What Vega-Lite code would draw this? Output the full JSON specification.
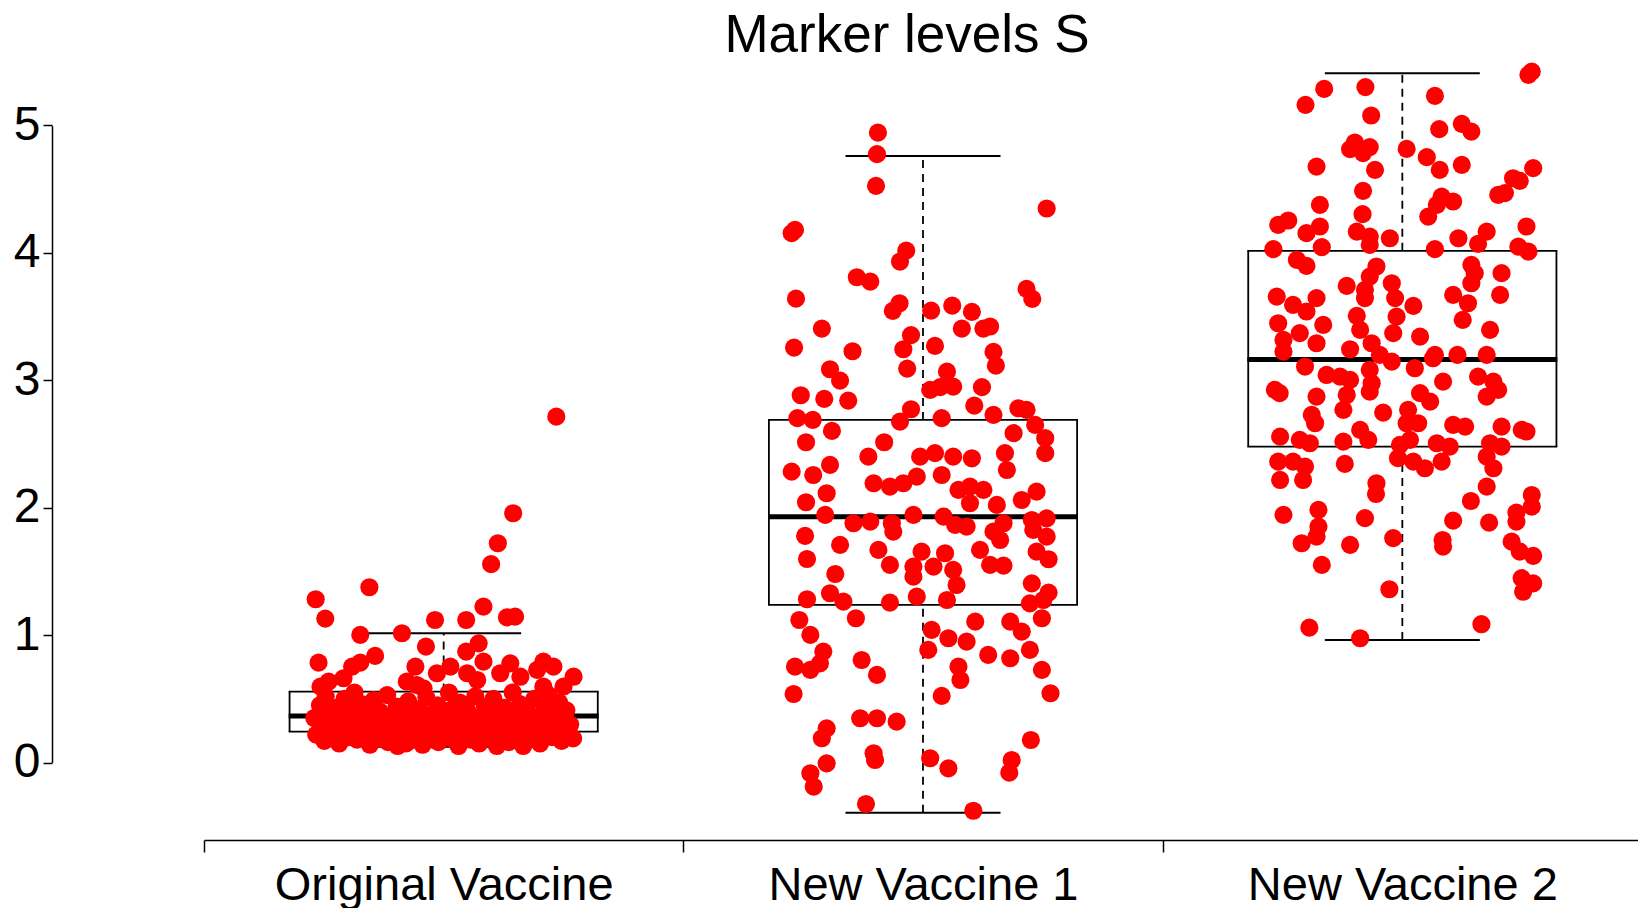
{
"$schema": "https://vega.github.io/schema/vega-lite/v6.json",
"autosize": "none",
"padding": {"left": 204, "top": 49, "right": 0, "bottom": 68},
"width": 1438,
"height": 791,
"background": "white",
"title": {"text": "Marker levels S", "fontSize": 53, "fontWeight": "normal", "font": "Liberation Sans", "color": "black", "anchor": "middle", "dx": -16, "offset": -14},
"config": {
  "view": {"stroke": null},
  "font": "Liberation Sans",
  "axisX": {"tickBand": "extent", "domainColor": "black", "domainWidth": 1.5, "tickColor": "black", "tickWidth": 1.5, "tickSize": 12, "labelFontSize": 47, "labelColor": "black", "labelPadding": 10, "labelAngle": 0, "labelLimit": 0, "grid": false, "labelFont": "Liberation Sans"},
  "axisY": {"offset": 152, "domainColor": "black", "domainWidth": 1.5, "domainDash": [0, 77.4, 637.2, 3000], "tickColor": "black", "tickWidth": 1.5, "tickSize": 9, "labelFontSize": 48, "labelColor": "black", "labelPadding": 3, "labelLimit": 0, "grid": false, "labelFont": "Liberation Sans"}
},
"datasets": {
  "boxes": [
    {"group": "Original Vaccine", "lower": 0.125, "q1": 0.243, "median": 0.366, "q3": 0.557, "upper": 1.015},
    {"group": "New Vaccine 1", "lower": -0.393, "q1": 1.237, "median": 1.930, "q3": 2.689, "upper": 4.761},
    {"group": "New Vaccine 2", "lower": 0.962, "q1": 2.480, "median": 3.163, "q3": 4.016, "upper": 5.410}
  ],
  "points": [
{"group":"Original Vaccine","jitter":0.235,"value":2.715},
{"group":"Original Vaccine","jitter":0.145,"value":1.957},
{"group":"Original Vaccine","jitter":0.113,"value":1.721},
{"group":"Original Vaccine","jitter":0.099,"value":1.557},
{"group":"Original Vaccine","jitter":-0.155,"value":1.376},
{"group":"Original Vaccine","jitter":-0.267,"value":1.282},
{"group":"Original Vaccine","jitter":-0.247,"value":1.130},
{"group":"Original Vaccine","jitter":0.083,"value":1.224},
{"group":"Original Vaccine","jitter":-0.018,"value":1.119},
{"group":"Original Vaccine","jitter":0.047,"value":1.119},
{"group":"Original Vaccine","jitter":0.132,"value":1.140},
{"group":"Original Vaccine","jitter":0.149,"value":1.145},
{"group":"Original Vaccine","jitter":-0.087,"value":1.015},
{"group":"Original Vaccine","jitter":-0.174,"value":1.002},
{"group":"Original Vaccine","jitter":-0.037,"value":0.910},
{"group":"Original Vaccine","jitter":0.047,"value":0.871},
{"group":"Original Vaccine","jitter":0.073,"value":0.936},
{"group":"Original Vaccine","jitter":-0.143,"value":0.837},
{"group":"Original Vaccine","jitter":-0.261,"value":0.784},
{"group":"Original Vaccine","jitter":-0.191,"value":0.753},
{"group":"Original Vaccine","jitter":-0.174,"value":0.784},
{"group":"Original Vaccine","jitter":-0.059,"value":0.753},
{"group":"Original Vaccine","jitter":0.014,"value":0.753},
{"group":"Original Vaccine","jitter":0.083,"value":0.792},
{"group":"Original Vaccine","jitter":0.139,"value":0.779},
{"group":"Original Vaccine","jitter":0.208,"value":0.792},
{"group":"Original Vaccine","jitter":0.229,"value":0.753},
{"group":"Original Vaccine","jitter":0.271,"value":0.674},
{"group":"Original Vaccine","jitter":0.195,"value":0.727},
{"group":"Original Vaccine","jitter":-0.014,"value":0.701},
{"group":"Original Vaccine","jitter":0.049,"value":0.701},
{"group":"Original Vaccine","jitter":0.070,"value":0.648},
{"group":"Original Vaccine","jitter":0.118,"value":0.701},
{"group":"Original Vaccine","jitter":0.160,"value":0.674},
{"group":"Original Vaccine","jitter":-0.257,"value":0.596},
{"group":"Original Vaccine","jitter":-0.240,"value":0.635},
{"group":"Original Vaccine","jitter":-0.209,"value":0.662},
{"group":"Original Vaccine","jitter":-0.077,"value":0.635},
{"group":"Original Vaccine","jitter":-0.056,"value":0.609},
{"group":"Original Vaccine","jitter":-0.042,"value":0.583},
{"group":"Original Vaccine","jitter":0.208,"value":0.596},
{"group":"Original Vaccine","jitter":0.250,"value":0.596},
{"group":"Original Vaccine","jitter":-0.270,"value":0.35},
{"group":"Original Vaccine","jitter":-0.266,"value":0.22},
{"group":"Original Vaccine","jitter":-0.258,"value":0.45},
{"group":"Original Vaccine","jitter":-0.253,"value":0.28},
{"group":"Original Vaccine","jitter":-0.249,"value":0.17},
{"group":"Original Vaccine","jitter":-0.246,"value":0.52},
{"group":"Original Vaccine","jitter":-0.238,"value":0.38},
{"group":"Original Vaccine","jitter":-0.233,"value":0.31},
{"group":"Original Vaccine","jitter":-0.231,"value":0.24},
{"group":"Original Vaccine","jitter":-0.224,"value":0.43},
{"group":"Original Vaccine","jitter":-0.218,"value":0.15},
{"group":"Original Vaccine","jitter":-0.213,"value":0.36},
{"group":"Original Vaccine","jitter":-0.207,"value":0.50},
{"group":"Original Vaccine","jitter":-0.204,"value":0.27},
{"group":"Original Vaccine","jitter":-0.198,"value":0.20},
{"group":"Original Vaccine","jitter":-0.193,"value":0.41},
{"group":"Original Vaccine","jitter":-0.188,"value":0.33},
{"group":"Original Vaccine","jitter":-0.186,"value":0.55},
{"group":"Original Vaccine","jitter":-0.181,"value":0.18},
{"group":"Original Vaccine","jitter":-0.174,"value":0.29},
{"group":"Original Vaccine","jitter":-0.171,"value":0.46},
{"group":"Original Vaccine","jitter":-0.163,"value":0.38},
{"group":"Original Vaccine","jitter":-0.161,"value":0.23},
{"group":"Original Vaccine","jitter":-0.154,"value":0.14},
{"group":"Original Vaccine","jitter":-0.148,"value":0.34},
{"group":"Original Vaccine","jitter":-0.146,"value":0.49},
{"group":"Original Vaccine","jitter":-0.139,"value":0.27},
{"group":"Original Vaccine","jitter":-0.133,"value":0.40},
{"group":"Original Vaccine","jitter":-0.131,"value":0.19},
{"group":"Original Vaccine","jitter":-0.124,"value":0.31},
{"group":"Original Vaccine","jitter":-0.118,"value":0.53},
{"group":"Original Vaccine","jitter":-0.116,"value":0.16},
{"group":"Original Vaccine","jitter":-0.109,"value":0.36},
{"group":"Original Vaccine","jitter":-0.106,"value":0.25},
{"group":"Original Vaccine","jitter":-0.098,"value":0.44},
{"group":"Original Vaccine","jitter":-0.096,"value":0.13},
{"group":"Original Vaccine","jitter":-0.089,"value":0.30},
{"group":"Original Vaccine","jitter":-0.084,"value":0.21},
{"group":"Original Vaccine","jitter":-0.081,"value":0.39},
{"group":"Original Vaccine","jitter":-0.074,"value":0.48},
{"group":"Original Vaccine","jitter":-0.071,"value":0.17},
{"group":"Original Vaccine","jitter":-0.063,"value":0.28},
{"group":"Original Vaccine","jitter":-0.061,"value":0.35},
{"group":"Original Vaccine","jitter":-0.053,"value":0.23},
{"group":"Original Vaccine","jitter":-0.051,"value":0.42},
{"group":"Original Vaccine","jitter":-0.044,"value":0.14},
{"group":"Original Vaccine","jitter":-0.039,"value":0.32},
{"group":"Original Vaccine","jitter":-0.036,"value":0.51},
{"group":"Original Vaccine","jitter":-0.028,"value":0.20},
{"group":"Original Vaccine","jitter":-0.026,"value":0.37},
{"group":"Original Vaccine","jitter":-0.019,"value":0.26},
{"group":"Original Vaccine","jitter":-0.013,"value":0.45},
{"group":"Original Vaccine","jitter":-0.011,"value":0.16},
{"group":"Original Vaccine","jitter":-0.004,"value":0.33},
{"group":"Original Vaccine","jitter":0.002,"value":0.24},
{"group":"Original Vaccine","jitter":0.006,"value":0.40},
{"group":"Original Vaccine","jitter":0.011,"value":0.55},
{"group":"Original Vaccine","jitter":0.016,"value":0.19},
{"group":"Original Vaccine","jitter":0.021,"value":0.29},
{"group":"Original Vaccine","jitter":0.024,"value":0.36},
{"group":"Original Vaccine","jitter":0.031,"value":0.13},
{"group":"Original Vaccine","jitter":0.034,"value":0.47},
{"group":"Original Vaccine","jitter":0.041,"value":0.22},
{"group":"Original Vaccine","jitter":0.046,"value":0.31},
{"group":"Original Vaccine","jitter":0.049,"value":0.41},
{"group":"Original Vaccine","jitter":0.056,"value":0.18},
{"group":"Original Vaccine","jitter":0.059,"value":0.27},
{"group":"Original Vaccine","jitter":0.066,"value":0.52},
{"group":"Original Vaccine","jitter":0.071,"value":0.35},
{"group":"Original Vaccine","jitter":0.074,"value":0.15},
{"group":"Original Vaccine","jitter":0.081,"value":0.24},
{"group":"Original Vaccine","jitter":0.086,"value":0.44},
{"group":"Original Vaccine","jitter":0.089,"value":0.30},
{"group":"Original Vaccine","jitter":0.096,"value":0.20},
{"group":"Original Vaccine","jitter":0.101,"value":0.38},
{"group":"Original Vaccine","jitter":0.104,"value":0.50},
{"group":"Original Vaccine","jitter":0.111,"value":0.13},
{"group":"Original Vaccine","jitter":0.114,"value":0.27},
{"group":"Original Vaccine","jitter":0.121,"value":0.34},
{"group":"Original Vaccine","jitter":0.126,"value":0.43},
{"group":"Original Vaccine","jitter":0.129,"value":0.21},
{"group":"Original Vaccine","jitter":0.136,"value":0.16},
{"group":"Original Vaccine","jitter":0.141,"value":0.37},
{"group":"Original Vaccine","jitter":0.144,"value":0.55},
{"group":"Original Vaccine","jitter":0.151,"value":0.29},
{"group":"Original Vaccine","jitter":0.156,"value":0.24},
{"group":"Original Vaccine","jitter":0.159,"value":0.46},
{"group":"Original Vaccine","jitter":0.166,"value":0.13},
{"group":"Original Vaccine","jitter":0.171,"value":0.33},
{"group":"Original Vaccine","jitter":0.174,"value":0.40},
{"group":"Original Vaccine","jitter":0.181,"value":0.19},
{"group":"Original Vaccine","jitter":0.186,"value":0.27},
{"group":"Original Vaccine","jitter":0.189,"value":0.50},
{"group":"Original Vaccine","jitter":0.196,"value":0.36},
{"group":"Original Vaccine","jitter":0.201,"value":0.15},
{"group":"Original Vaccine","jitter":0.204,"value":0.23},
{"group":"Original Vaccine","jitter":0.211,"value":0.43},
{"group":"Original Vaccine","jitter":0.216,"value":0.31},
{"group":"Original Vaccine","jitter":0.219,"value":0.53},
{"group":"Original Vaccine","jitter":0.226,"value":0.20},
{"group":"Original Vaccine","jitter":0.231,"value":0.38},
{"group":"Original Vaccine","jitter":0.234,"value":0.26},
{"group":"Original Vaccine","jitter":0.241,"value":0.47},
{"group":"Original Vaccine","jitter":0.246,"value":0.17},
{"group":"Original Vaccine","jitter":0.249,"value":0.34},
{"group":"Original Vaccine","jitter":0.256,"value":0.41},
{"group":"Original Vaccine","jitter":0.261,"value":0.24},
{"group":"Original Vaccine","jitter":0.264,"value":0.30},
{"group":"Original Vaccine","jitter":0.270,"value":0.19},
{"group":"Original Vaccine","jitter":-0.251,"value":0.33},
{"group":"Original Vaccine","jitter":-0.202,"value":0.37},
{"group":"Original Vaccine","jitter":-0.151,"value":0.20},
{"group":"Original Vaccine","jitter":-0.102,"value":0.32},
{"group":"Original Vaccine","jitter":-0.049,"value":0.28},
{"group":"Original Vaccine","jitter":0.003,"value":0.35},
{"group":"Original Vaccine","jitter":0.052,"value":0.25},
{"group":"Original Vaccine","jitter":0.098,"value":0.29},
{"group":"Original Vaccine","jitter":0.152,"value":0.35},
{"group":"Original Vaccine","jitter":0.199,"value":0.30},
{"group":"Original Vaccine","jitter":0.248,"value":0.26},
{"group":"Original Vaccine","jitter":-0.222,"value":0.26},
{"group":"Original Vaccine","jitter":-0.121,"value":0.22},
{"group":"Original Vaccine","jitter":-0.022,"value":0.18},
{"group":"Original Vaccine","jitter":0.078,"value":0.34},
{"group":"Original Vaccine","jitter":0.178,"value":0.25},
{"group":"Original Vaccine","jitter":0.122,"value":0.18},
{"group":"Original Vaccine","jitter":-0.079,"value":0.15},
{"group":"Original Vaccine","jitter":0.018,"value":0.42},
{"group":"Original Vaccine","jitter":-0.178,"value":0.42},
{"group":"New Vaccine 1","jitter":-0.094,"value":4.944},
{"group":"New Vaccine 1","jitter":-0.096,"value":4.775},
{"group":"New Vaccine 1","jitter":-0.098,"value":4.526},
{"group":"New Vaccine 1","jitter":0.258,"value":4.348},
{"group":"New Vaccine 1","jitter":-0.267,"value":4.181},
{"group":"New Vaccine 1","jitter":-0.274,"value":4.155},
{"group":"New Vaccine 1","jitter":-0.035,"value":4.018},
{"group":"New Vaccine 1","jitter":-0.048,"value":3.932},
{"group":"New Vaccine 1","jitter":-0.138,"value":3.809},
{"group":"New Vaccine 1","jitter":-0.110,"value":3.775},
{"group":"New Vaccine 1","jitter":-0.265,"value":3.641},
{"group":"New Vaccine 1","jitter":0.216,"value":3.717},
{"group":"New Vaccine 1","jitter":0.228,"value":3.639},
{"group":"New Vaccine 1","jitter":-0.049,"value":3.605},
{"group":"New Vaccine 1","jitter":-0.063,"value":3.545},
{"group":"New Vaccine 1","jitter":0.017,"value":3.547},
{"group":"New Vaccine 1","jitter":0.061,"value":3.586},
{"group":"New Vaccine 1","jitter":0.102,"value":3.537},
{"group":"New Vaccine 1","jitter":0.081,"value":3.406},
{"group":"New Vaccine 1","jitter":0.126,"value":3.406},
{"group":"New Vaccine 1","jitter":0.140,"value":3.422},
{"group":"New Vaccine 1","jitter":-0.211,"value":3.406},
{"group":"New Vaccine 1","jitter":-0.025,"value":3.354},
{"group":"New Vaccine 1","jitter":-0.269,"value":3.257},
{"group":"New Vaccine 1","jitter":-0.147,"value":3.228},
{"group":"New Vaccine 1","jitter":-0.041,"value":3.244},
{"group":"New Vaccine 1","jitter":0.025,"value":3.270},
{"group":"New Vaccine 1","jitter":0.147,"value":3.223},
{"group":"New Vaccine 1","jitter":0.152,"value":3.115},
{"group":"New Vaccine 1","jitter":-0.194,"value":3.087},
{"group":"New Vaccine 1","jitter":-0.173,"value":2.998},
{"group":"New Vaccine 1","jitter":-0.033,"value":3.092},
{"group":"New Vaccine 1","jitter":0.050,"value":3.068},
{"group":"New Vaccine 1","jitter":0.063,"value":2.951},
{"group":"New Vaccine 1","jitter":0.015,"value":2.925},
{"group":"New Vaccine 1","jitter":0.036,"value":2.946},
{"group":"New Vaccine 1","jitter":0.123,"value":2.946},
{"group":"New Vaccine 1","jitter":-0.255,"value":2.883},
{"group":"New Vaccine 1","jitter":-0.206,"value":2.854},
{"group":"New Vaccine 1","jitter":-0.156,"value":2.841},
{"group":"New Vaccine 1","jitter":0.107,"value":2.801},
{"group":"New Vaccine 1","jitter":-0.262,"value":2.703},
{"group":"New Vaccine 1","jitter":-0.230,"value":2.689},
{"group":"New Vaccine 1","jitter":-0.025,"value":2.773},
{"group":"New Vaccine 1","jitter":-0.048,"value":2.676},
{"group":"New Vaccine 1","jitter":0.039,"value":2.703},
{"group":"New Vaccine 1","jitter":0.147,"value":2.729},
{"group":"New Vaccine 1","jitter":0.199,"value":2.781},
{"group":"New Vaccine 1","jitter":0.216,"value":2.768},
{"group":"New Vaccine 1","jitter":-0.190,"value":2.603},
{"group":"New Vaccine 1","jitter":-0.244,"value":2.514},
{"group":"New Vaccine 1","jitter":-0.081,"value":2.514},
{"group":"New Vaccine 1","jitter":0.234,"value":2.650},
{"group":"New Vaccine 1","jitter":0.255,"value":2.546},
{"group":"New Vaccine 1","jitter":0.189,"value":2.585},
{"group":"New Vaccine 1","jitter":-0.114,"value":2.401},
{"group":"New Vaccine 1","jitter":0.171,"value":2.428},
{"group":"New Vaccine 1","jitter":0.255,"value":2.428},
{"group":"New Vaccine 1","jitter":-0.006,"value":2.401},
{"group":"New Vaccine 1","jitter":0.025,"value":2.428},
{"group":"New Vaccine 1","jitter":0.063,"value":2.401},
{"group":"New Vaccine 1","jitter":0.102,"value":2.388},
{"group":"New Vaccine 1","jitter":-0.274,"value":2.283},
{"group":"New Vaccine 1","jitter":-0.229,"value":2.257},
{"group":"New Vaccine 1","jitter":-0.194,"value":2.336},
{"group":"New Vaccine 1","jitter":0.175,"value":2.296},
{"group":"New Vaccine 1","jitter":0.039,"value":2.257},
{"group":"New Vaccine 1","jitter":-0.103,"value":2.192},
{"group":"New Vaccine 1","jitter":-0.069,"value":2.166},
{"group":"New Vaccine 1","jitter":-0.041,"value":2.192},
{"group":"New Vaccine 1","jitter":-0.013,"value":2.244},
{"group":"New Vaccine 1","jitter":0.074,"value":2.140},
{"group":"New Vaccine 1","jitter":0.098,"value":2.166},
{"group":"New Vaccine 1","jitter":0.126,"value":2.140},
{"group":"New Vaccine 1","jitter":0.098,"value":2.035},
{"group":"New Vaccine 1","jitter":-0.201,"value":2.114},
{"group":"New Vaccine 1","jitter":-0.244,"value":2.043},
{"group":"New Vaccine 1","jitter":0.237,"value":2.126},
{"group":"New Vaccine 1","jitter":0.206,"value":2.061},
{"group":"New Vaccine 1","jitter":0.154,"value":2.022},
{"group":"New Vaccine 1","jitter":-0.204,"value":1.944},
{"group":"New Vaccine 1","jitter":-0.145,"value":1.878},
{"group":"New Vaccine 1","jitter":-0.110,"value":1.891},
{"group":"New Vaccine 1","jitter":-0.062,"value":1.812},
{"group":"New Vaccine 1","jitter":-0.065,"value":1.878},
{"group":"New Vaccine 1","jitter":-0.020,"value":1.944},
{"group":"New Vaccine 1","jitter":0.043,"value":1.930},
{"group":"New Vaccine 1","jitter":0.067,"value":1.865},
{"group":"New Vaccine 1","jitter":0.091,"value":1.852},
{"group":"New Vaccine 1","jitter":0.168,"value":1.878},
{"group":"New Vaccine 1","jitter":0.147,"value":1.812},
{"group":"New Vaccine 1","jitter":0.161,"value":1.747},
{"group":"New Vaccine 1","jitter":0.227,"value":1.904},
{"group":"New Vaccine 1","jitter":0.258,"value":1.917},
{"group":"New Vaccine 1","jitter":0.258,"value":1.773},
{"group":"New Vaccine 1","jitter":0.230,"value":1.826},
{"group":"New Vaccine 1","jitter":-0.246,"value":1.779},
{"group":"New Vaccine 1","jitter":-0.173,"value":1.708},
{"group":"New Vaccine 1","jitter":-0.093,"value":1.669},
{"group":"New Vaccine 1","jitter":-0.003,"value":1.655},
{"group":"New Vaccine 1","jitter":0.046,"value":1.643},
{"group":"New Vaccine 1","jitter":0.119,"value":1.669},
{"group":"New Vaccine 1","jitter":-0.242,"value":1.598},
{"group":"New Vaccine 1","jitter":-0.069,"value":1.551},
{"group":"New Vaccine 1","jitter":-0.020,"value":1.538},
{"group":"New Vaccine 1","jitter":0.022,"value":1.538},
{"group":"New Vaccine 1","jitter":0.063,"value":1.512},
{"group":"New Vaccine 1","jitter":0.140,"value":1.551},
{"group":"New Vaccine 1","jitter":0.168,"value":1.546},
{"group":"New Vaccine 1","jitter":0.237,"value":1.655},
{"group":"New Vaccine 1","jitter":0.262,"value":1.596},
{"group":"New Vaccine 1","jitter":-0.183,"value":1.480},
{"group":"New Vaccine 1","jitter":-0.020,"value":1.459},
{"group":"New Vaccine 1","jitter":0.070,"value":1.394},
{"group":"New Vaccine 1","jitter":0.227,"value":1.407},
{"group":"New Vaccine 1","jitter":0.262,"value":1.334},
{"group":"New Vaccine 1","jitter":-0.242,"value":1.282},
{"group":"New Vaccine 1","jitter":-0.194,"value":1.329},
{"group":"New Vaccine 1","jitter":-0.166,"value":1.263},
{"group":"New Vaccine 1","jitter":-0.069,"value":1.255},
{"group":"New Vaccine 1","jitter":-0.013,"value":1.302},
{"group":"New Vaccine 1","jitter":0.050,"value":1.276},
{"group":"New Vaccine 1","jitter":0.223,"value":1.250},
{"group":"New Vaccine 1","jitter":0.251,"value":1.276},
{"group":"New Vaccine 1","jitter":-0.258,"value":1.119},
{"group":"New Vaccine 1","jitter":-0.140,"value":1.133},
{"group":"New Vaccine 1","jitter":0.248,"value":1.133},
{"group":"New Vaccine 1","jitter":-0.235,"value":1.002},
{"group":"New Vaccine 1","jitter":0.018,"value":1.041},
{"group":"New Vaccine 1","jitter":0.053,"value":0.976},
{"group":"New Vaccine 1","jitter":0.091,"value":0.949},
{"group":"New Vaccine 1","jitter":0.109,"value":1.106},
{"group":"New Vaccine 1","jitter":0.182,"value":1.106},
{"group":"New Vaccine 1","jitter":0.206,"value":1.028},
{"group":"New Vaccine 1","jitter":0.011,"value":0.884},
{"group":"New Vaccine 1","jitter":-0.208,"value":0.871},
{"group":"New Vaccine 1","jitter":-0.267,"value":0.753},
{"group":"New Vaccine 1","jitter":-0.235,"value":0.727},
{"group":"New Vaccine 1","jitter":-0.215,"value":0.779},
{"group":"New Vaccine 1","jitter":-0.128,"value":0.805},
{"group":"New Vaccine 1","jitter":-0.096,"value":0.688},
{"group":"New Vaccine 1","jitter":0.136,"value":0.845},
{"group":"New Vaccine 1","jitter":0.182,"value":0.819},
{"group":"New Vaccine 1","jitter":0.223,"value":0.884},
{"group":"New Vaccine 1","jitter":0.074,"value":0.753},
{"group":"New Vaccine 1","jitter":0.078,"value":0.648},
{"group":"New Vaccine 1","jitter":0.248,"value":0.727},
{"group":"New Vaccine 1","jitter":-0.270,"value":0.538},
{"group":"New Vaccine 1","jitter":0.039,"value":0.523},
{"group":"New Vaccine 1","jitter":0.266,"value":0.544},
{"group":"New Vaccine 1","jitter":-0.131,"value":0.348},
{"group":"New Vaccine 1","jitter":-0.096,"value":0.348},
{"group":"New Vaccine 1","jitter":-0.055,"value":0.321},
{"group":"New Vaccine 1","jitter":-0.201,"value":0.269},
{"group":"New Vaccine 1","jitter":-0.211,"value":0.191},
{"group":"New Vaccine 1","jitter":0.225,"value":0.177},
{"group":"New Vaccine 1","jitter":-0.103,"value":0.073},
{"group":"New Vaccine 1","jitter":-0.100,"value":0.020},
{"group":"New Vaccine 1","jitter":0.015,"value":0.034},
{"group":"New Vaccine 1","jitter":0.053,"value":-0.045},
{"group":"New Vaccine 1","jitter":0.185,"value":0.020},
{"group":"New Vaccine 1","jitter":0.180,"value":-0.079},
{"group":"New Vaccine 1","jitter":-0.201,"value":-0.006},
{"group":"New Vaccine 1","jitter":-0.235,"value":-0.084},
{"group":"New Vaccine 1","jitter":-0.228,"value":-0.189},
{"group":"New Vaccine 1","jitter":-0.119,"value":-0.325},
{"group":"New Vaccine 1","jitter":0.105,"value":-0.378},
{"group":"New Vaccine 2","jitter":0.263,"value":5.397},
{"group":"New Vaccine 2","jitter":0.270,"value":5.423},
{"group":"New Vaccine 2","jitter":-0.163,"value":5.287},
{"group":"New Vaccine 2","jitter":-0.202,"value":5.162},
{"group":"New Vaccine 2","jitter":-0.077,"value":5.301},
{"group":"New Vaccine 2","jitter":0.068,"value":5.232},
{"group":"New Vaccine 2","jitter":-0.065,"value":5.078},
{"group":"New Vaccine 2","jitter":0.077,"value":4.971},
{"group":"New Vaccine 2","jitter":0.124,"value":5.013},
{"group":"New Vaccine 2","jitter":0.144,"value":4.952},
{"group":"New Vaccine 2","jitter":-0.099,"value":4.866},
{"group":"New Vaccine 2","jitter":-0.109,"value":4.814},
{"group":"New Vaccine 2","jitter":-0.068,"value":4.830},
{"group":"New Vaccine 2","jitter":-0.082,"value":4.783},
{"group":"New Vaccine 2","jitter":0.009,"value":4.816},
{"group":"New Vaccine 2","jitter":0.051,"value":4.751},
{"group":"New Vaccine 2","jitter":0.078,"value":4.651},
{"group":"New Vaccine 2","jitter":0.124,"value":4.691},
{"group":"New Vaccine 2","jitter":-0.179,"value":4.677},
{"group":"New Vaccine 2","jitter":-0.057,"value":4.651},
{"group":"New Vaccine 2","jitter":0.273,"value":4.665},
{"group":"New Vaccine 2","jitter":0.231,"value":4.586},
{"group":"New Vaccine 2","jitter":0.245,"value":4.565},
{"group":"New Vaccine 2","jitter":-0.082,"value":4.487},
{"group":"New Vaccine 2","jitter":0.200,"value":4.455},
{"group":"New Vaccine 2","jitter":0.214,"value":4.469},
{"group":"New Vaccine 2","jitter":0.082,"value":4.442},
{"group":"New Vaccine 2","jitter":0.106,"value":4.403},
{"group":"New Vaccine 2","jitter":0.072,"value":4.377},
{"group":"New Vaccine 2","jitter":0.054,"value":4.285},
{"group":"New Vaccine 2","jitter":-0.172,"value":4.377},
{"group":"New Vaccine 2","jitter":-0.083,"value":4.304},
{"group":"New Vaccine 2","jitter":-0.259,"value":4.220},
{"group":"New Vaccine 2","jitter":-0.238,"value":4.254},
{"group":"New Vaccine 2","jitter":-0.172,"value":4.207},
{"group":"New Vaccine 2","jitter":-0.200,"value":4.155},
{"group":"New Vaccine 2","jitter":-0.095,"value":4.167},
{"group":"New Vaccine 2","jitter":-0.068,"value":4.128},
{"group":"New Vaccine 2","jitter":-0.026,"value":4.115},
{"group":"New Vaccine 2","jitter":0.259,"value":4.207},
{"group":"New Vaccine 2","jitter":0.176,"value":4.167},
{"group":"New Vaccine 2","jitter":0.117,"value":4.115},
{"group":"New Vaccine 2","jitter":0.158,"value":4.071},
{"group":"New Vaccine 2","jitter":-0.269,"value":4.029},
{"group":"New Vaccine 2","jitter":-0.168,"value":4.045},
{"group":"New Vaccine 2","jitter":-0.068,"value":4.063},
{"group":"New Vaccine 2","jitter":0.068,"value":4.029},
{"group":"New Vaccine 2","jitter":0.242,"value":4.049},
{"group":"New Vaccine 2","jitter":0.263,"value":4.010},
{"group":"New Vaccine 2","jitter":-0.220,"value":3.945},
{"group":"New Vaccine 2","jitter":-0.200,"value":3.898},
{"group":"New Vaccine 2","jitter":-0.054,"value":3.893},
{"group":"New Vaccine 2","jitter":-0.068,"value":3.814},
{"group":"New Vaccine 2","jitter":0.144,"value":3.906},
{"group":"New Vaccine 2","jitter":0.151,"value":3.841},
{"group":"New Vaccine 2","jitter":0.207,"value":3.841},
{"group":"New Vaccine 2","jitter":-0.116,"value":3.741},
{"group":"New Vaccine 2","jitter":-0.078,"value":3.710},
{"group":"New Vaccine 2","jitter":-0.022,"value":3.762},
{"group":"New Vaccine 2","jitter":0.144,"value":3.762},
{"group":"New Vaccine 2","jitter":-0.262,"value":3.657},
{"group":"New Vaccine 2","jitter":-0.228,"value":3.592},
{"group":"New Vaccine 2","jitter":-0.179,"value":3.645},
{"group":"New Vaccine 2","jitter":-0.078,"value":3.645},
{"group":"New Vaccine 2","jitter":-0.015,"value":3.645},
{"group":"New Vaccine 2","jitter":0.023,"value":3.584},
{"group":"New Vaccine 2","jitter":0.106,"value":3.670},
{"group":"New Vaccine 2","jitter":0.137,"value":3.605},
{"group":"New Vaccine 2","jitter":0.204,"value":3.670},
{"group":"New Vaccine 2","jitter":-0.200,"value":3.540},
{"group":"New Vaccine 2","jitter":-0.095,"value":3.506},
{"group":"New Vaccine 2","jitter":-0.012,"value":3.500},
{"group":"New Vaccine 2","jitter":0.126,"value":3.474},
{"group":"New Vaccine 2","jitter":-0.259,"value":3.448},
{"group":"New Vaccine 2","jitter":-0.165,"value":3.435},
{"group":"New Vaccine 2","jitter":-0.088,"value":3.396},
{"group":"New Vaccine 2","jitter":0.183,"value":3.396},
{"group":"New Vaccine 2","jitter":-0.248,"value":3.317},
{"group":"New Vaccine 2","jitter":-0.214,"value":3.370},
{"group":"New Vaccine 2","jitter":-0.179,"value":3.291},
{"group":"New Vaccine 2","jitter":-0.019,"value":3.370},
{"group":"New Vaccine 2","jitter":0.037,"value":3.343},
{"group":"New Vaccine 2","jitter":-0.248,"value":3.225},
{"group":"New Vaccine 2","jitter":-0.109,"value":3.244},
{"group":"New Vaccine 2","jitter":-0.064,"value":3.291},
{"group":"New Vaccine 2","jitter":-0.047,"value":3.199},
{"group":"New Vaccine 2","jitter":0.068,"value":3.199},
{"group":"New Vaccine 2","jitter":0.115,"value":3.199},
{"group":"New Vaccine 2","jitter":0.176,"value":3.199},
{"group":"New Vaccine 2","jitter":-0.203,"value":3.108},
{"group":"New Vaccine 2","jitter":-0.158,"value":3.042},
{"group":"New Vaccine 2","jitter":-0.130,"value":3.029},
{"group":"New Vaccine 2","jitter":-0.109,"value":3.003},
{"group":"New Vaccine 2","jitter":-0.068,"value":3.082},
{"group":"New Vaccine 2","jitter":-0.064,"value":2.977},
{"group":"New Vaccine 2","jitter":-0.068,"value":2.911},
{"group":"New Vaccine 2","jitter":-0.022,"value":3.147},
{"group":"New Vaccine 2","jitter":0.026,"value":3.095},
{"group":"New Vaccine 2","jitter":0.064,"value":3.173},
{"group":"New Vaccine 2","jitter":0.085,"value":2.990},
{"group":"New Vaccine 2","jitter":0.158,"value":3.029},
{"group":"New Vaccine 2","jitter":0.190,"value":2.990},
{"group":"New Vaccine 2","jitter":0.200,"value":2.925},
{"group":"New Vaccine 2","jitter":0.176,"value":2.872},
{"group":"New Vaccine 2","jitter":-0.266,"value":2.925},
{"group":"New Vaccine 2","jitter":-0.256,"value":2.899},
{"group":"New Vaccine 2","jitter":-0.179,"value":2.872},
{"group":"New Vaccine 2","jitter":-0.116,"value":2.885},
{"group":"New Vaccine 2","jitter":0.037,"value":2.899},
{"group":"New Vaccine 2","jitter":0.058,"value":2.833},
{"group":"New Vaccine 2","jitter":-0.123,"value":2.768},
{"group":"New Vaccine 2","jitter":-0.189,"value":2.729},
{"group":"New Vaccine 2","jitter":-0.182,"value":2.663},
{"group":"New Vaccine 2","jitter":-0.040,"value":2.747},
{"group":"New Vaccine 2","jitter":0.012,"value":2.768},
{"group":"New Vaccine 2","jitter":0.009,"value":2.663},
{"group":"New Vaccine 2","jitter":0.033,"value":2.663},
{"group":"New Vaccine 2","jitter":0.106,"value":2.650},
{"group":"New Vaccine 2","jitter":0.131,"value":2.637},
{"group":"New Vaccine 2","jitter":0.207,"value":2.637},
{"group":"New Vaccine 2","jitter":0.249,"value":2.611},
{"group":"New Vaccine 2","jitter":0.259,"value":2.598},
{"group":"New Vaccine 2","jitter":-0.255,"value":2.558},
{"group":"New Vaccine 2","jitter":-0.214,"value":2.533},
{"group":"New Vaccine 2","jitter":-0.193,"value":2.506},
{"group":"New Vaccine 2","jitter":-0.123,"value":2.519},
{"group":"New Vaccine 2","jitter":-0.088,"value":2.611},
{"group":"New Vaccine 2","jitter":-0.071,"value":2.533},
{"group":"New Vaccine 2","jitter":-0.005,"value":2.493},
{"group":"New Vaccine 2","jitter":0.016,"value":2.533},
{"group":"New Vaccine 2","jitter":0.072,"value":2.506},
{"group":"New Vaccine 2","jitter":0.099,"value":2.480},
{"group":"New Vaccine 2","jitter":0.183,"value":2.506},
{"group":"New Vaccine 2","jitter":0.207,"value":2.480},
{"group":"New Vaccine 2","jitter":-0.259,"value":2.362},
{"group":"New Vaccine 2","jitter":-0.228,"value":2.362},
{"group":"New Vaccine 2","jitter":-0.203,"value":2.323},
{"group":"New Vaccine 2","jitter":-0.255,"value":2.218},
{"group":"New Vaccine 2","jitter":-0.207,"value":2.218},
{"group":"New Vaccine 2","jitter":-0.120,"value":2.344},
{"group":"New Vaccine 2","jitter":-0.009,"value":2.389},
{"group":"New Vaccine 2","jitter":0.023,"value":2.362},
{"group":"New Vaccine 2","jitter":0.047,"value":2.310},
{"group":"New Vaccine 2","jitter":0.082,"value":2.362},
{"group":"New Vaccine 2","jitter":0.176,"value":2.401},
{"group":"New Vaccine 2","jitter":0.190,"value":2.310},
{"group":"New Vaccine 2","jitter":0.176,"value":2.166},
{"group":"New Vaccine 2","jitter":-0.054,"value":2.192},
{"group":"New Vaccine 2","jitter":-0.055,"value":2.108},
{"group":"New Vaccine 2","jitter":0.270,"value":2.100},
{"group":"New Vaccine 2","jitter":0.270,"value":2.009},
{"group":"New Vaccine 2","jitter":0.143,"value":2.053},
{"group":"New Vaccine 2","jitter":-0.248,"value":1.944},
{"group":"New Vaccine 2","jitter":-0.175,"value":1.983},
{"group":"New Vaccine 2","jitter":-0.078,"value":1.918},
{"group":"New Vaccine 2","jitter":0.106,"value":1.899},
{"group":"New Vaccine 2","jitter":0.181,"value":1.883},
{"group":"New Vaccine 2","jitter":0.238,"value":1.962},
{"group":"New Vaccine 2","jitter":0.238,"value":1.891},
{"group":"New Vaccine 2","jitter":-0.175,"value":1.852},
{"group":"New Vaccine 2","jitter":-0.179,"value":1.773},
{"group":"New Vaccine 2","jitter":-0.210,"value":1.721},
{"group":"New Vaccine 2","jitter":-0.109,"value":1.708},
{"group":"New Vaccine 2","jitter":-0.019,"value":1.761},
{"group":"New Vaccine 2","jitter":0.084,"value":1.747},
{"group":"New Vaccine 2","jitter":0.085,"value":1.695},
{"group":"New Vaccine 2","jitter":0.228,"value":1.734},
{"group":"New Vaccine 2","jitter":0.245,"value":1.655},
{"group":"New Vaccine 2","jitter":0.273,"value":1.622},
{"group":"New Vaccine 2","jitter":-0.168,"value":1.551},
{"group":"New Vaccine 2","jitter":0.249,"value":1.447},
{"group":"New Vaccine 2","jitter":0.273,"value":1.407},
{"group":"New Vaccine 2","jitter":0.252,"value":1.341},
{"group":"New Vaccine 2","jitter":-0.027,"value":1.360},
{"group":"New Vaccine 2","jitter":-0.194,"value":1.059},
{"group":"New Vaccine 2","jitter":-0.088,"value":0.976},
{"group":"New Vaccine 2","jitter":0.165,"value":1.086}
  ]
},
"layer": [
  {
    "data": {"name": "boxes"},
    "mark": {"type": "rule", "stroke": "black", "strokeWidth": 1.8, "strokeDash": [8, 6]},
    "encoding": {
      "x": {"field": "group", "type": "nominal", "title": null, "scale": {"domain": ["Original Vaccine", "New Vaccine 1", "New Vaccine 2"], "paddingInner": 0, "paddingOuter": 0}},
      "y": {"field": "q3", "type": "quantitative", "title": null, "scale": {"domain": [-0.6075, 5.6], "nice": false, "zero": false}, "axis": {"values": [0, 1, 2, 3, 4, 5], "format": "d"}},
      "y2": {"field": "upper"}
    }
  },
  {
    "data": {"name": "boxes"},
    "mark": {"type": "rule", "stroke": "black", "strokeWidth": 1.8, "strokeDash": [8, 6]},
    "encoding": {
      "x": {"field": "group", "type": "nominal", "title": null},
      "y": {"field": "lower", "type": "quantitative", "title": null},
      "y2": {"field": "q1"}
    }
  },
  {
    "data": {"name": "boxes"},
    "mark": {"type": "rule", "stroke": "black", "strokeWidth": 1.8},
    "encoding": {
      "x": {"field": "group", "type": "nominal", "title": null},
      "xOffset": {"datum": -0.3215, "type": "quantitative"},
      "y": {"field": "q1", "type": "quantitative", "title": null},
      "y2": {"field": "q3"}
    }
  },
  {
    "data": {"name": "boxes"},
    "mark": {"type": "rule", "stroke": "black", "strokeWidth": 1.8},
    "encoding": {
      "x": {"field": "group", "type": "nominal", "title": null},
      "xOffset": {"datum": 0.3215, "type": "quantitative"},
      "y": {"field": "q1", "type": "quantitative", "title": null},
      "y2": {"field": "q3"}
    }
  },
  {
    "data": {"name": "boxes"},
    "mark": {"type": "tick", "orient": "horizontal", "color": "black", "size": 310, "thickness": 1.8, "opacity": 1},
    "encoding": {
      "x": {"field": "group", "type": "nominal", "title": null},
      "y": {"field": "q1", "type": "quantitative", "title": null}
    }
  },
  {
    "data": {"name": "boxes"},
    "mark": {"type": "tick", "orient": "horizontal", "color": "black", "size": 310, "thickness": 1.8, "opacity": 1},
    "encoding": {
      "x": {"field": "group", "type": "nominal", "title": null},
      "y": {"field": "q3", "type": "quantitative", "title": null}
    }
  },
  {
    "data": {"name": "boxes"},
    "mark": {"type": "tick", "orient": "horizontal", "color": "black", "size": 155, "thickness": 2, "opacity": 1},
    "encoding": {
      "x": {"field": "group", "type": "nominal", "title": null},
      "y": {"field": "upper", "type": "quantitative", "title": null}
    }
  },
  {
    "data": {"name": "boxes"},
    "mark": {"type": "tick", "orient": "horizontal", "color": "black", "size": 155, "thickness": 2, "opacity": 1},
    "encoding": {
      "x": {"field": "group", "type": "nominal", "title": null},
      "y": {"field": "lower", "type": "quantitative", "title": null}
    }
  },
  {
    "data": {"name": "boxes"},
    "mark": {"type": "tick", "orient": "horizontal", "color": "black", "size": 310, "thickness": 5, "opacity": 1},
    "encoding": {
      "x": {"field": "group", "type": "nominal", "title": null},
      "y": {"field": "median", "type": "quantitative", "title": null}
    }
  },
  {
    "data": {"name": "points"},
    "mark": {"type": "circle", "color": "#ff0000", "size": 330, "opacity": 1},
    "encoding": {
      "x": {"field": "group", "type": "nominal", "title": null},
      "xOffset": {"field": "jitter", "type": "quantitative", "scale": {"domain": [-0.5, 0.5]}},
      "y": {"field": "value", "type": "quantitative", "title": null}
    }
  }
]
}
